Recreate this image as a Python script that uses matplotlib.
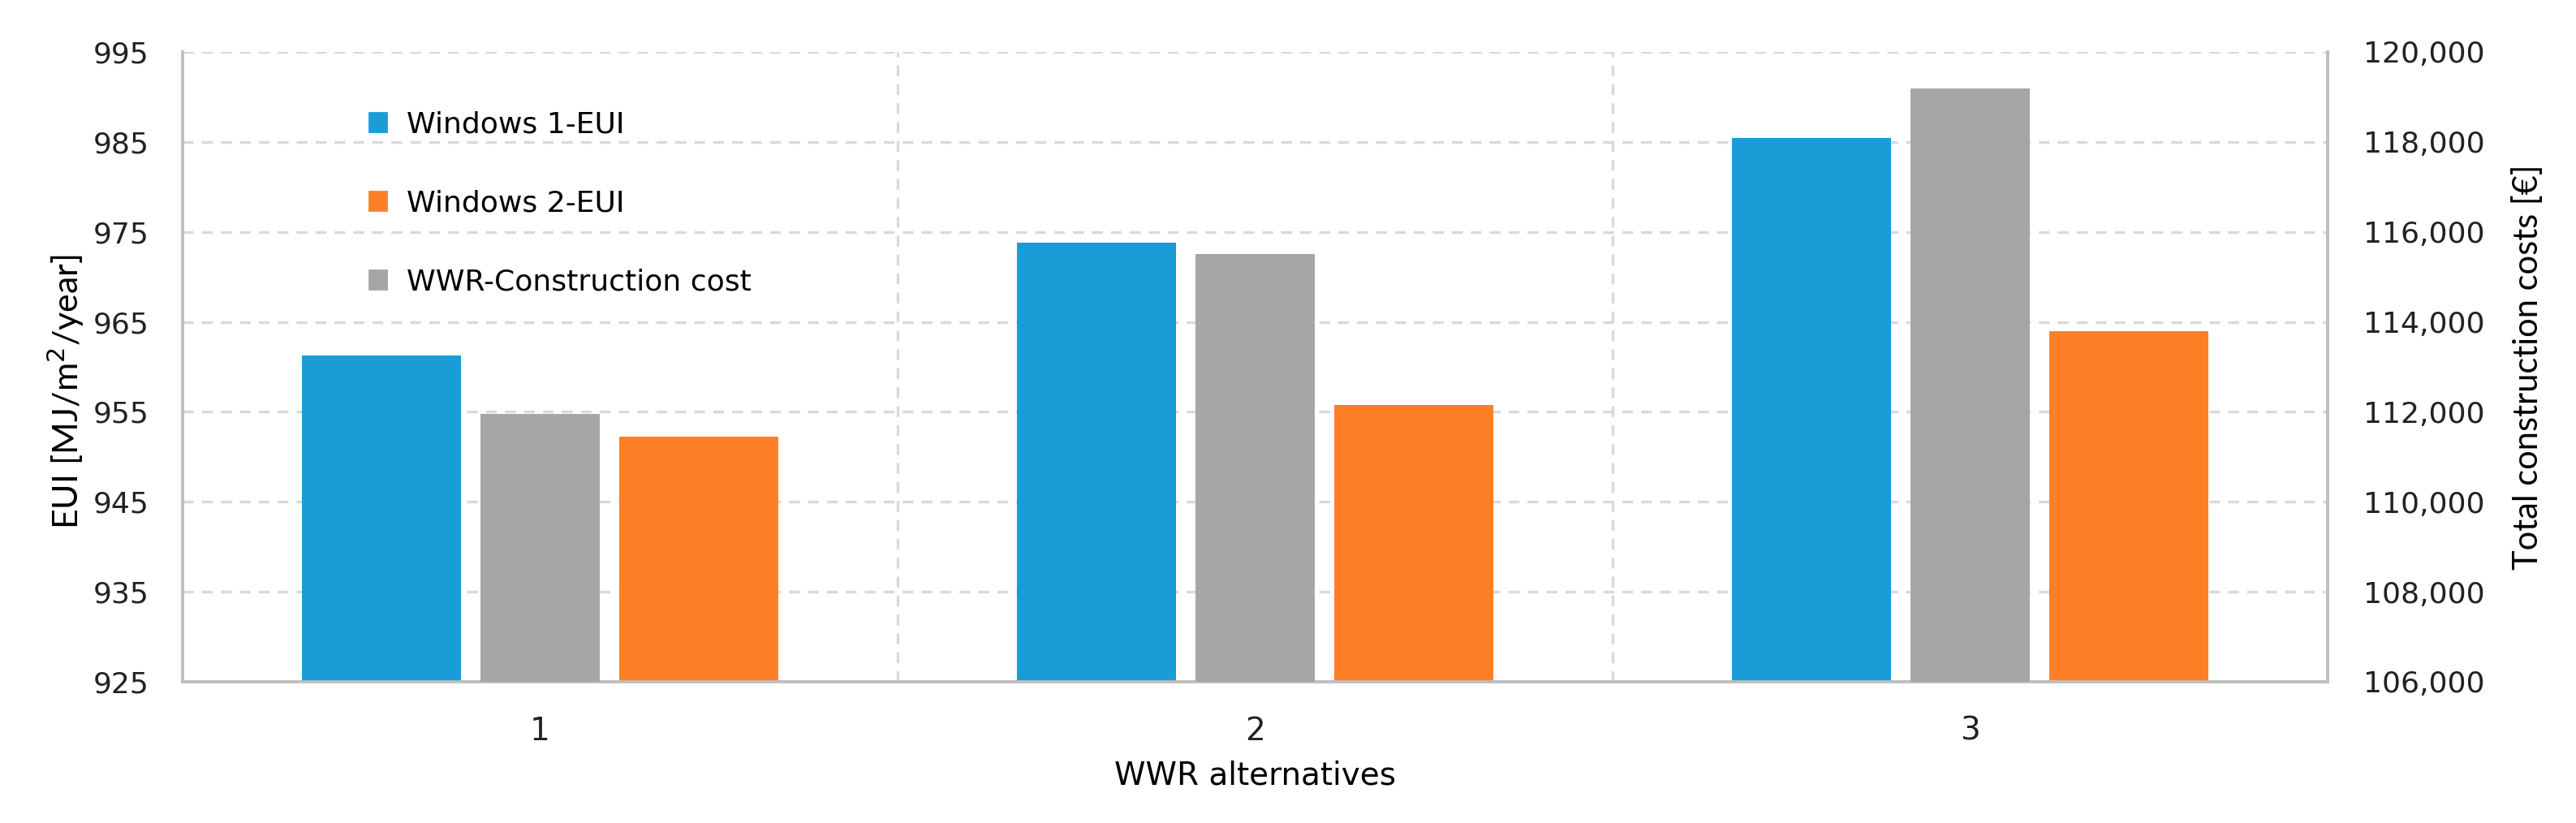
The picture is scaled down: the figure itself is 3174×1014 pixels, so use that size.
import numpy as np
import matplotlib
matplotlib.use("Agg")
from matplotlib import pyplot as plt
from matplotlib.patches import Patch
from matplotlib.ticker import FuncFormatter


categories = ["1", "2", "3"]
windows1_eui = [961.3, 973.8, 985.4]
windows2_eui = [952.2, 955.8, 964.0]
construction_cost = [111950, 115500, 119180]
eui_ticks = [925, 935, 945, 955, 965, 975, 985, 995]
cost_ticks = [106000, 108000, 110000, 112000, 114000, 116000, 118000, 120000]

blue = "#1A9CD7"
orange = "#FF7F27"
gray = "#A6A6A6"
axis_gray = "#BFBFBF"
grid_gray = "#D9D9D9"

x = np.arange(len(categories))
w = 0.222

fig = plt.figure(figsize=(15.87, 5.07), dpi=200)
ax = fig.add_axes([0.0709, 0.1716, 0.8327, 0.7654])
ax2 = ax.twinx()

ax.bar(x - w, windows1_eui, width=w, color=blue, zorder=3)
ax.bar(x + w, windows2_eui, width=w, color=orange, zorder=3)
ax2.bar(x, construction_cost, width=0.166, color=gray, zorder=3)

ax.set_xlim(-0.5, 2.5)
ax.set_ylim(925, 995)
ax.set_yticks(eui_ticks)
ax2.set_ylim(106000, 120000)
ax2.set_yticks(cost_ticks)
ax2.yaxis.set_major_formatter(FuncFormatter(lambda v, p: f"{v:,.0f}"))

ax.set_xticks(x)
ax.set_xticklabels(categories)
ax.set_axisbelow(True)
ax.grid(axis="y", color=grid_gray, linestyle=(0, (4, 3)), linewidth=1.2)
for b in [0.5, 1.5]:
    ax.axvline(b, color=grid_gray, linestyle=(0, (4, 3)), linewidth=1.2, zorder=0)

for a in (ax, ax2):
    a.spines["top"].set_visible(False)
    for s in ("left", "right", "bottom"):
        a.spines[s].set_color(axis_gray)
        a.spines[s].set_linewidth(1.3)
    a.tick_params(length=0, labelsize=13, colors="#222222")
ax.tick_params(axis="y", pad=15)
ax2.tick_params(axis="y", pad=16)
ax.tick_params(axis="x", pad=15, labelsize=14)

ax.set_xlabel("WWR alternatives", fontsize=14, labelpad=6)
ax.set_ylabel("EUI [MJ/m$^2$/year]", fontsize=15.5, family="Lato")
ax.yaxis.set_label_coords(-0.045, 0.46)
ax2.set_ylabel("Total construction costs [€]", fontsize=15, family="Lato", labelpad=12)

handles = [Patch(color=blue), Patch(color=orange), Patch(color=gray)]
labels = ["Windows 1-EUI", "Windows 2-EUI", "WWR-Construction cost"]
ax2.legend(handles, labels, loc="upper left", bbox_to_anchor=(0.08, 0.93),
           frameon=False, fontsize=13, handlelength=0.6, handleheight=0.6,
           handletextpad=0.7, labelspacing=1.75, borderpad=0)

fig.savefig("out.png", dpi=200)
